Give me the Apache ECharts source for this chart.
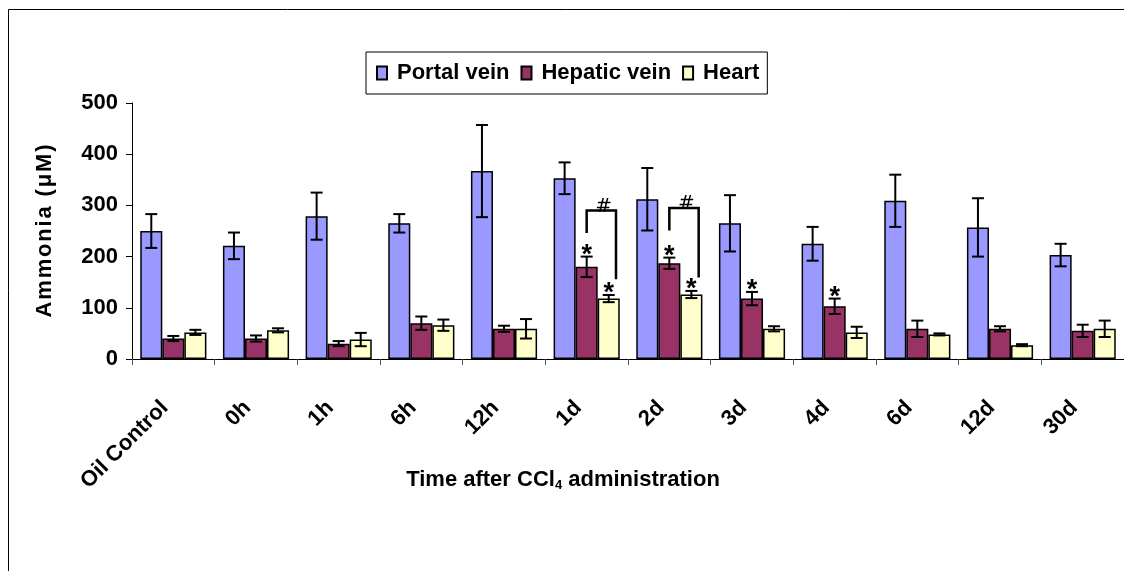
<!DOCTYPE html>
<html>
<head>
<meta charset="utf-8">
<script src="https://cdn.jsdelivr.net/npm/echarts@6/dist/echarts.min.js"></script>
<style>html,body{margin:0;padding:0;background:#fff}#c{width:1124px;height:571px}</style>
</head>
<body>
<div id="c"></div>
<script>
const categories = ['Oil Control','0h','1h','6h','12h','1d','2d','3d','4d','6d','12d','30d'];
const seriesNames = ['Portal vein','Hepatic vein','Heart'];
const portal     = [250,221,279,265,367,353,312,265,225,309,257,203];
const portalErr  = [33,26,46,18,90,31,61,55,33,51,57,22];
const hepatic    = [40,40,30,70,59,180,187,118,103,59,59,55];
const hepaticErr = [5,6,5,13,6,20,11,13,15,16,5,12];
const heart      = [52,56,38,66,59,118,126,59,52,48,27,59];
const heartErr   = [5,4,13,11,19,7,7,5,11,2,2,16];
const yTicks = [0,100,200,300,400,500];
// significance marks: [category, series index]
const starMarks = [['1d',1],['1d',2],['2d',1],['2d',2],['3d',1],['4d',1]];
// brackets (#): category, top value, left end value, right end value
const bracketCats  = ['1d','2d'];
const bracketTop   = [290,295];
const bracketLeft  = [246,251];
const bracketRight = [156,159];

const colors = ['#9999FF','#993366','#FFFFCC'];
const values = [portal, hepatic, heart];
const errs = [portalErr, hepaticErr, heartErr];
const FONT = '"Liberation Sans", Arial, sans-serif';

const chart = echarts.init(document.getElementById('c'), null, {renderer:'canvas'});

function barWidthOf(api){ return api.size([1,0])[0]*0.8/3; }

function errSeries(si){
  return {
    type:'custom', name: seriesNames[si]+' err', z:5, silent:true,
    encode:{x:0,y:1},
    data: categories.map((c,i)=>[i, values[si][i], errs[si][i]]),
    renderItem:function(params, api){
      const i = api.value(0), v = api.value(1), e = api.value(2);
      const bw = barWidthOf(api);
      const x = api.coord([i, v])[0] + (si-1)*bw;
      const yt = api.coord([i, v+e])[1];
      const yb = api.coord([i, v-e])[1];
      const hw = 6;
      const st = {stroke:'#000', lineWidth:2};
      return {type:'group', children:[
        {type:'line', shape:{x1:x,y1:yt,x2:x,y2:yb}, style:st},
        {type:'line', shape:{x1:x-hw,y1:yt,x2:x+hw,y2:yt}, style:st},
        {type:'line', shape:{x1:x-hw,y1:yb,x2:x+hw,y2:yb}, style:st}
      ]};
    }
  };
}

const series = [];
for (let si=0; si<3; si++){
  series.push({
    type:'bar', name: seriesNames[si], data: values[si],
    barGap:'0%', barCategoryGap:'20%',
    itemStyle:{color:colors[si], borderColor:'#000', borderWidth:1.5}
  });
}
for (let si=0; si<3; si++) series.push(errSeries(si));

// stars
series.push({
  type:'custom', name:'stars', z:6, silent:true, encode:{x:0,y:1},
  data: starMarks.map(m=>{
    const ci = categories.indexOf(m[0]);
    return [ci, values[m[1]][ci] + errs[m[1]][ci], m[1]];
  }),
  renderItem:function(params, api){
    const i = api.value(0), top = api.value(1), si = api.value(2);
    const bw = barWidthOf(api);
    const p = api.coord([i, top]);
    return {type:'text', style:{text:'*', x:p[0]+(si-1)*bw, y:p[1]-1, align:'center', verticalAlign:'middle',
      font:'bold 27px '+FONT, fill:'#000'}};
  }
});
// brackets
series.push({
  type:'custom', name:'brackets', z:6, silent:true, encode:{x:0,y:1},
  data: bracketCats.map((c,k)=>[categories.indexOf(c), bracketTop[k], bracketLeft[k], bracketRight[k]]),
  renderItem:function(params, api){
    const i = api.value(0);
    const bw = barWidthOf(api);
    const cx = api.coord([i, 0])[0];
    const xl = cx, xr = cx + 1.33*bw;
    const yT = api.coord([i, api.value(1)])[1];
    const yL = api.coord([i, api.value(2)])[1];
    const yR = api.coord([i, api.value(3)])[1];
    return {type:'group', children:[
      {type:'text', z2:1, style:{text:'#', x:cx+0.77*bw, y:yT-4, align:'center', verticalAlign:'middle',
        fontFamily:'"DejaVu Sans", sans-serif', fontStyle:'italic', fontSize:20, fill:'#000'}},
      {type:'polyline', z2:2, shape:{points:[[xl,yL],[xl,yT],[xr,yT],[xr,yR]]}, style:{stroke:'#000', lineWidth:2.5, fill:null}}
    ]};
  }
});

chart.setOption({
  animation:false,
  backgroundColor:'#fff',
  color: colors,
  grid:{left:132, right:0, top:103, bottom:212, containLabel:false},
  legend:{
    data: seriesNames,
    left:366, top:52,
    orient:'horizontal',
    padding:[9,8,9,10],
    itemGap:11, itemWidth:10, itemHeight:13,
    icon:'rect',
    borderColor:'#000', borderWidth:1, backgroundColor:'#fff',
    textStyle:{fontFamily:FONT, fontWeight:'bold', fontSize:22, color:'#000', lineHeight:24, padding:[0,0,0,5]}
  },
  xAxis:{
    type:'category', data: categories,
    axisLine:{lineStyle:{color:'#000', width:1}},
    axisTick:{show:true, length:6, alignWithLabel:false, interval:0, lineStyle:{color:'#555'}},
    axisLabel:{interval:0, rotate:45, margin:37, fontFamily:FONT, fontWeight:'bold', fontSize:22, color:'#000', padding:[0,12,20,0]},
    splitLine:{show:false}
  },
  yAxis:{
    type:'value', min:yTicks[0], max:yTicks[yTicks.length-1], interval:100,
    name:'A\u200Am\u200Am\u200Ao\u200An\u200Ai\u200Aa\u200A \u200A(\u200Aμ\u200AM\u200A)',
    nameLocation:'middle', nameGap:76, nameRotate:90,
    nameTextStyle:{fontFamily:FONT, fontWeight:'bold', fontSize:22, color:'#000'},
    axisLine:{show:true, lineStyle:{color:'#000', width:1}},
    axisTick:{show:true, length:6, lineStyle:{color:'#000'}},
    axisLabel:{margin:14, fontFamily:FONT, fontWeight:'bold', fontSize:22, color:'#000'},
    splitLine:{show:false}
  },
  graphic:[
    {type:'rect', shape:{x:8.5, y:9.5, width:1200, height:700}, style:{fill:null, stroke:'#000', lineWidth:1}, z:-10, silent:true},
    {type:'text', x:563, y:480, style:{
      text:'{a|Time after CCl}{s|4}{a| administration}', align:'center', verticalAlign:'middle',
      rich:{a:{fontFamily:FONT, fontWeight:'bold', fontSize:22, fill:'#000', color:'#000'},
            s:{fontFamily:FONT, fontWeight:'bold', fontSize:13, fill:'#000', color:'#000', padding:[10,0,0,0]}}
    }}
  ],
  series: series
});
</script>
</body>
</html>
